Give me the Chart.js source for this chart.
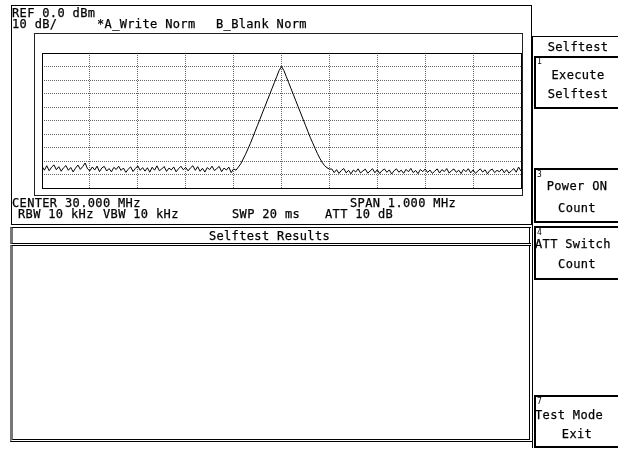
<!DOCTYPE html>
<html><head><meta charset="utf-8">
<script src="https://cdn.jsdelivr.net/npm/chart.js@4"></script>
<style>
html,body{margin:0;padding:0;background:#fff;width:618px;height:450px;overflow:hidden;}
#c{position:absolute;left:0;top:0;}
.t{position:absolute;font-family:"DejaVu Sans Mono",monospace;font-size:12px;letter-spacing:0.35px;line-height:12px;color:#000;white-space:pre;-webkit-text-stroke:0.25px #000;}
.c{text-align:center;}
.s{position:absolute;font-family:"DejaVu Sans Mono",monospace;font-size:8px;line-height:8px;color:#000;}
.b{position:absolute;box-sizing:border-box;}
</style></head>
<body>
<canvas id="c" width="618" height="450"></canvas>

<!-- panels -->
<div class="b" style="left:11px;top:5px;width:521px;height:220px;border:1px solid #000;"></div>
<div class="b" style="left:34px;top:33px;width:489px;height:163px;border:1px solid #222;"></div>
<div class="b" style="left:10px;top:227px;width:523px;height:17px;border:1px solid #000;border-left:3px solid #777;border-right:4px double #000;"></div>
<div class="b" style="left:10px;top:245px;width:523px;height:197px;border:1px solid #000;border-left:3px solid #777;border-right:4px double #000;border-bottom:3px double #000;"></div>
<div class="b" style="left:532px;top:36px;width:90px;height:412px;border-left:1px solid #000;border-top:1px solid #000;"></div>
<div class="b" style="left:534px;top:56px;width:90px;height:53px;border:2px solid #000;"></div>
<div class="b" style="left:534px;top:168px;width:90px;height:55px;border:2px solid #000;"></div>
<div class="b" style="left:534px;top:226px;width:90px;height:54px;border:2px solid #000;"></div>
<div class="b" style="left:534px;top:395px;width:90px;height:53px;border:2px solid #000;"></div>

<!-- texts -->
<div class="t" style="left:12px;top:7px;">REF 0.0 dBm</div>
<div class="t" style="left:12px;top:18px;">10 dB/</div>
<div class="t" style="left:97px;top:18px;">*A_Write Norm</div>
<div class="t" style="left:216px;top:18px;">B_Blank Norm</div>
<div class="t" style="left:12px;top:197px;">CENTER 30.000 MHz</div>
<div class="t" style="left:350px;top:197px;">SPAN 1.000 MHz</div>
<div class="t" style="left:18px;top:208px;">RBW 10 kHz</div>
<div class="t" style="left:103px;top:208px;">VBW 10 kHz</div>
<div class="t" style="left:232px;top:208px;">SWP 20 ms</div>
<div class="t" style="left:325px;top:208px;">ATT 10 dB</div>
<div class="t c" style="left:11px;width:517px;top:230px;">Selftest Results</div>

<div class="t c" style="left:534px;width:88px;top:41px;">Selftest</div>
<div class="s" style="left:537px;top:58px;">1</div>
<div class="t c" style="left:534px;width:88px;top:69px;">Execute</div>
<div class="t c" style="left:534px;width:88px;top:88px;">Selftest</div>
<div class="s" style="left:537px;top:171px;">3</div>
<div class="t c" style="left:534px;width:86px;top:180px;">Power ON</div>
<div class="t c" style="left:534px;width:86px;top:202px;">Count</div>
<div class="s" style="left:537px;top:229px;">4</div>
<div class="t" style="left:535px;top:238px;">ATT Switch</div>
<div class="t c" style="left:534px;width:86px;top:258px;">Count</div>
<div class="s" style="left:537px;top:398px;">7</div>
<div class="t" style="left:535px;top:409px;">Test Mode</div>
<div class="t c" style="left:534px;width:86px;top:428px;">Exit</div>

<script>
// Sweep: 29.500 .. 30.500 MHz, 5 kHz per trace point
const freqStartMHz = 29.5;
const freqStepMHz = 0.005;
const spanMHz = 1.0;
const refLevelDbm = 0;
const dbPerDiv = 10;

// Trace A levels (dBm)
const noiseLeft = [
  -84.0, -86.8, -83.5, -87.2, -84.6, -82.9, -86.5, -84.2, -87.6, -85.0,
  -83.4, -86.9, -84.8, -88.1, -85.3, -83.0, -86.2, -84.1, -81.5, -85.8,
  -87.3, -84.4, -86.7, -83.8, -87.9, -85.1, -84.0, -87.4, -85.6, -88.0,
  -84.7, -86.3, -83.9, -87.0, -85.2, -88.4, -86.1, -84.3, -87.8, -85.5,
  -83.7, -86.9, -84.9, -87.5, -85.0, -88.3, -84.6, -86.8, -83.6, -87.2,
  -85.9, -84.1, -87.7, -85.3, -86.6, -84.4, -88.0, -85.7, -83.9, -86.5,
  -84.8, -87.3, -85.1, -83.5, -86.9, -84.2, -87.6, -85.4, -88.2, -84.9,
  -86.4, -83.8, -87.1, -85.6, -84.0, -87.9, -85.2, -86.7, -84.5, -88.6,
  -85.9, -86.8
];
const skirtLeft = [-84.5, -82, -78.5, -75, -71, -67, -62.5, -58, -53.5, -49, -44.5, -40, -35.5, -31, -26.5, -22, -17.5, -13];
const peak = [-10];
const skirtRight = [-13, -17.5, -22, -26.5, -31, -35.5, -40, -44.5, -49, -53.5, -58, -62.5, -66.5, -70.5, -74.5, -78, -81, -83.5, -85, -86];
const noiseRight = [
  -85.9, -88.6, -86.4, -89.2, -87.0, -85.6, -88.8, -86.9, -89.5, -86.7,
  -88.1, -85.8, -88.9, -87.3, -86.0, -89.0, -87.4, -85.7, -88.7, -86.5,
  -89.3, -87.1, -85.9, -88.4, -86.6, -89.6, -87.2, -85.8, -88.3, -86.8,
  -89.1, -86.2, -88.0, -85.5, -88.6, -87.0, -89.4, -86.3, -87.9, -85.9,
  -88.5, -86.7, -89.2, -87.5, -85.8, -88.9, -86.4, -87.8, -85.6, -89.0,
  -87.1, -85.9, -88.4, -86.8, -89.3, -86.1, -87.9, -85.7, -88.8, -86.6,
  -89.1, -87.4, -85.8, -88.2, -86.5, -89.5, -87.0, -86.0, -88.6, -86.9,
  -88.0, -85.9, -88.7, -86.4, -89.0, -87.2, -85.6, -88.3, -84.5, -87.5
];

const levels = [].concat(noiseLeft, skirtLeft, peak, skirtRight, noiseRight);
const points = levels.map((v, i) => ({ x: freqStartMHz + i * freqStepMHz, y: v }));

const framePlugin = {
  id: 'frame',
  afterDraw(chart) {
    const { ctx, chartArea: a } = chart;
    ctx.save();
    ctx.strokeStyle = '#000';
    ctx.lineWidth = 1;
    const l = Math.round(a.left), t = Math.round(a.top), r = Math.round(a.right), b = Math.round(a.bottom);
    ctx.strokeRect(l + 0.5, t + 0.5, r - l, b - t);
    ctx.restore();
  }
};

new Chart(document.getElementById('c'), {
  type: 'line',
  data: { datasets: [{ data: points, borderColor: '#000', borderWidth: 1, pointRadius: 0, tension: 0, fill: false }] },
  options: {
    responsive: false,
    animation: false,
    devicePixelRatio: 1,
    layout: { padding: { left: 42, top: 53, right: 97, bottom: 262 } },
    plugins: { legend: { display: false }, tooltip: { enabled: false } },
    scales: {
      x: {
        type: 'linear', min: freqStartMHz, max: freqStartMHz + spanMHz,
        ticks: { display: false, stepSize: spanMHz / 10 },
        grid: { color: '#666', drawTicks: false, lineWidth: 1 },
        border: { display: false, dash: [1, 1] }
      },
      y: {
        type: 'linear', min: refLevelDbm - 10 * dbPerDiv, max: refLevelDbm,
        ticks: { display: false, stepSize: dbPerDiv },
        grid: { color: '#666', drawTicks: false, lineWidth: 1 },
        border: { display: false, dash: [1, 1] }
      }
    }
  },
  plugins: [framePlugin]
});
</script>
</body></html>
